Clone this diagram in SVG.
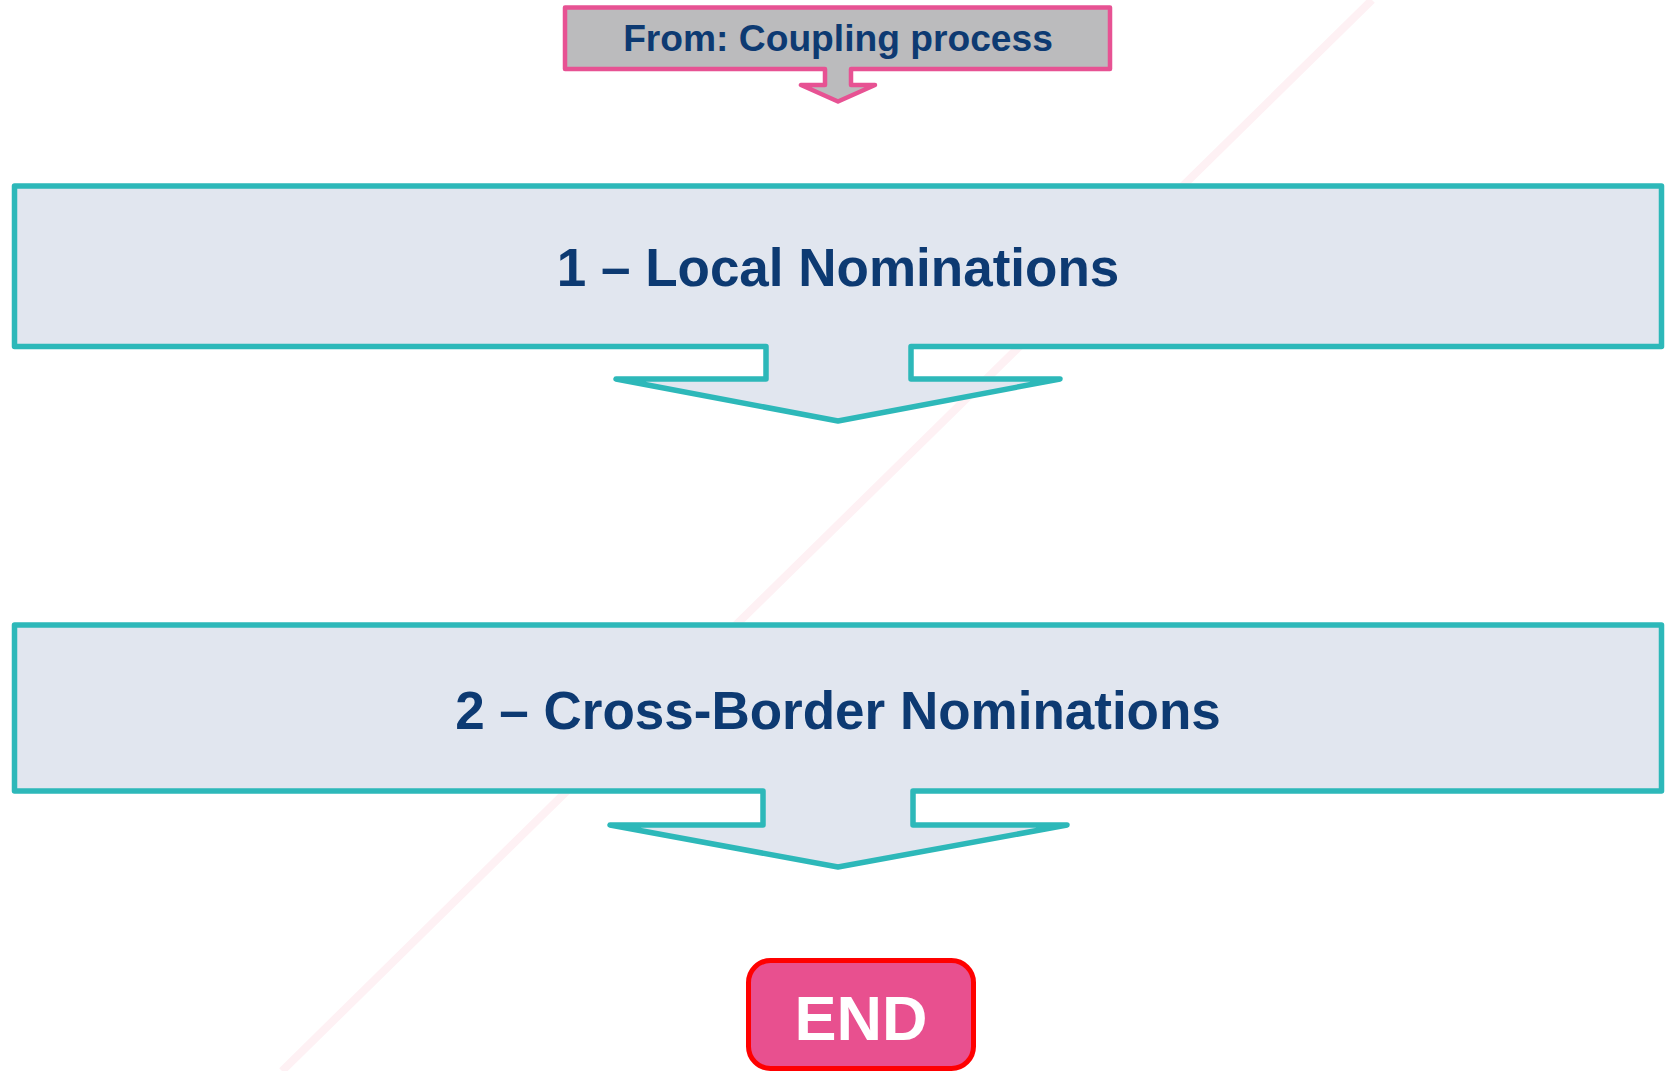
<svg xmlns="http://www.w3.org/2000/svg" width="1667" height="1071" viewBox="0 0 1667 1071">
<style>
.step{fill:#E1E6EF;stroke:#2DB8B9;stroke-width:5.5;stroke-linejoin:round}
.lbl{font-family:"Liberation Sans",Arial,sans-serif;font-weight:bold;fill:#0D3A72;text-anchor:middle}
</style>
<rect width="1667" height="1071" fill="#FFFFFF"/>
<line x1="1372" y1="0" x2="282" y2="1071" stroke="#FEF1F4" stroke-width="8"/>
<g id="from">
<path d="M565,7.5 H1110 V69 H851 V85 H875 L838,101.5 L801,85 H825 V69 H565 Z" fill="#BBBBBD" stroke="#E75293" stroke-width="4.5" stroke-linejoin="round"/>
<text class="lbl" x="838" y="51" font-size="37.2">From: Coupling process</text>
</g>
<g id="step1">
<path class="step" d="M14.5,186 H1661.5 V346.5 H911 V379 H1060 L838,421 L616,379 H766 V346.5 H14.5 Z"/>
<text class="lbl" x="838" y="286" font-size="53">1 – Local Nominations</text>
</g>
<g id="step2">
<path class="step" d="M14.5,625 H1661.5 V791 H913 V825 H1067 L838,867 L610,825 H763 V791 H14.5 Z"/>
<text class="lbl" x="838" y="729" font-size="53">2 – Cross-Border Nominations</text>
</g>
<g id="end">
<rect x="748.5" y="960.5" width="225" height="108" rx="22" fill="#E8508F" stroke="#FF0000" stroke-width="5"/>
<text x="861" y="1040" font-size="63" font-family="'Liberation Sans',Arial,sans-serif" font-weight="bold" fill="#FFFFFF" text-anchor="middle">END</text>
</g>
<g id="connectors"></g>
</svg>
